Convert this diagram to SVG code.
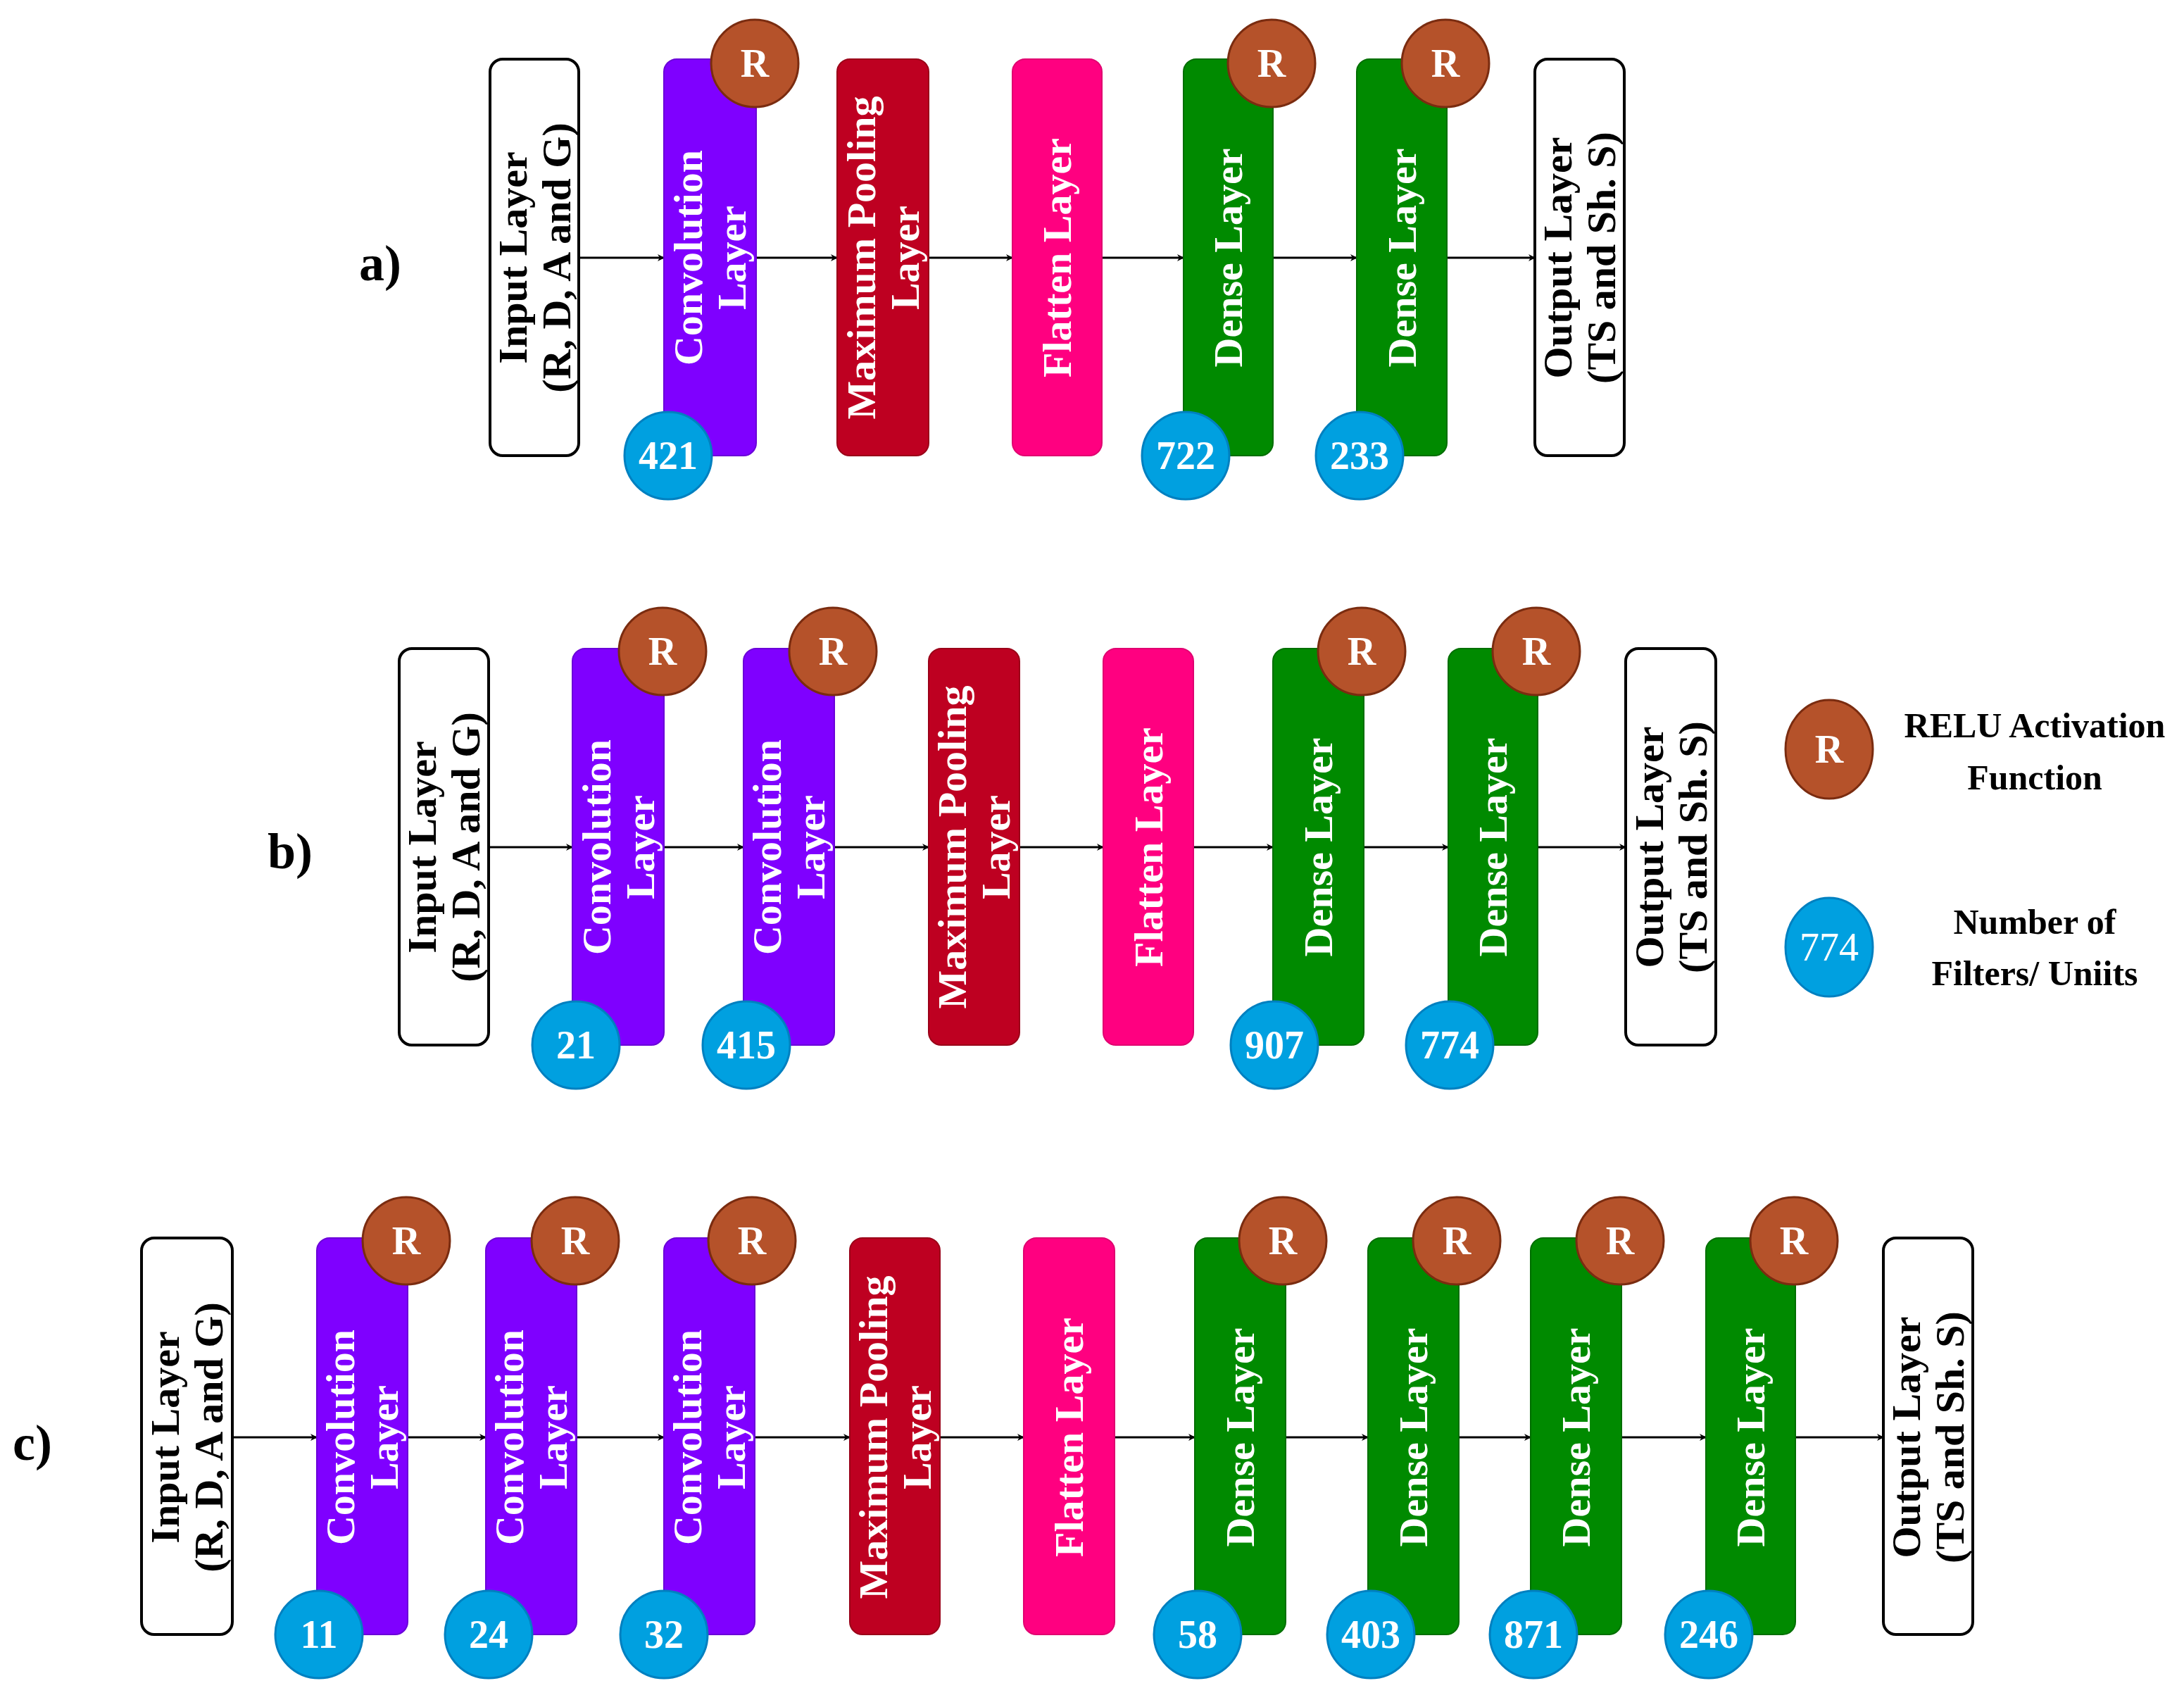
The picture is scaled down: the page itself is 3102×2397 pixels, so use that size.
<svg xmlns="http://www.w3.org/2000/svg" width="3102" height="2397" viewBox="0 0 3102 2397">
<style>
text{font-family:"Liberation Serif","Times New Roman",serif;font-weight:bold;dominant-baseline:central;text-anchor:middle}
.lt{font-size:58px;fill:#fff}
.bt{font-size:58px;fill:#000}
.io{fill:#fff;stroke:#000;stroke-width:4}
.cv{fill:#7F00FF;stroke:#6a00d8;stroke-width:2}
.mp{fill:#BE0021;stroke:#9a0018;stroke-width:2}
.fl{fill:#FF0080;stroke:#e00070;stroke-width:2}
.de{fill:#008A00;stroke:#006e00;stroke-width:2}
.r{fill:#B5522A;stroke:#7a2c10;stroke-width:3}
.n{fill:#00A0E0;stroke:#0080c0;stroke-width:3}
.ct{font-size:56px;fill:#fff}
.lab{font-size:72px;fill:#000}
.leg{font-size:50px;fill:#000}
.e{stroke:#000;stroke-width:3;fill:none;marker-end:url(#ah)}
</style>
<defs>
<marker id="ah" markerWidth="10" markerHeight="10" refX="9" refY="5" orient="auto" markerUnits="userSpaceOnUse" viewBox="0 0 10 10"><path d="M0,0 L10,5 L0,10 L3,5 Z" fill="#000"/></marker>
</defs>
<rect width="3102" height="2397" fill="#fff"/>

<text class="lab" x="540" y="374">a)</text>
<text class="lab" x="412" y="1209">b)</text>
<text class="lab" x="46" y="2049">c)</text>

<g id="connectors">
<path class="e" d="M822,366H943"/><path class="e" d="M1074,366H1189"/><path class="e" d="M1319,366H1438"/><path class="e" d="M1565,366H1681"/><path class="e" d="M1808,366H1927"/><path class="e" d="M2055,366H2180"/>
<path class="e" d="M694,1203H813"/><path class="e" d="M943,1203H1056"/><path class="e" d="M1185,1203H1319"/><path class="e" d="M1448,1203H1567"/><path class="e" d="M1695,1203H1808"/><path class="e" d="M1937,1203H2057"/><path class="e" d="M2184,1203H2309"/>
<path class="e" d="M330,2041H450"/><path class="e" d="M579,2041H690"/><path class="e" d="M819,2041H943"/><path class="e" d="M1072,2041H1207"/><path class="e" d="M1335,2041H1454"/><path class="e" d="M1583,2041H1697"/><path class="e" d="M1826,2041H1943"/><path class="e" d="M2072,2041H2174"/><path class="e" d="M2303,2041H2423"/><path class="e" d="M2550,2041H2675"/>
</g>

<!-- Row a -->
<g id="a_in"><rect class="io" x="696" y="84" width="126" height="563" rx="18"/><text class="bt" transform="translate(759,366) rotate(-90)"><tspan x="0" y="-31">Input Layer</tspan><tspan x="0" y="31">(R, D, A and G)</tspan></text></g>
<g id="a_conv"><rect class="cv" x="943" y="84" width="131" height="563" rx="18"/><text class="lt" transform="translate(1008,366) rotate(-90)"><tspan x="0" y="-31">Convolution</tspan><tspan x="0" y="31">Layer</tspan></text><circle class="r" cx="1072" cy="90" r="62"/><text class="ct" x="1072" y="90">R</text><circle class="n" cx="949" cy="647" r="62"/><text class="ct" x="949" y="647">421</text></g>
<g id="a_mp"><rect class="mp" x="1189" y="84" width="130" height="563" rx="18"/><text class="lt" transform="translate(1254,366) rotate(-90)"><tspan x="0" y="-31">Maximum Pooling</tspan><tspan x="0" y="31">Layer</tspan></text></g>
<g id="a_fl"><rect class="fl" x="1438" y="84" width="127" height="563" rx="18"/><text class="lt" transform="translate(1501,366) rotate(-90)">Flatten Layer</text></g>
<g id="a_d1"><rect class="de" x="1681" y="84" width="127" height="563" rx="18"/><text class="lt" transform="translate(1744,366) rotate(-90)">Dense Layer</text><circle class="r" cx="1806" cy="90" r="62"/><text class="ct" x="1806" y="90">R</text><circle class="n" cx="1684" cy="647" r="62"/><text class="ct" x="1684" y="647">722</text></g>
<g id="a_d2"><rect class="de" x="1927" y="84" width="128" height="563" rx="18"/><text class="lt" transform="translate(1991,366) rotate(-90)">Dense Layer</text><circle class="r" cx="2053" cy="90" r="62"/><text class="ct" x="2053" y="90">R</text><circle class="n" cx="1931" cy="647" r="62"/><text class="ct" x="1931" y="647">233</text></g>
<g id="a_out"><rect class="io" x="2180" y="84" width="127" height="563" rx="18"/><text class="bt" transform="translate(2243,366) rotate(-90)"><tspan x="0" y="-31">Output Layer</tspan><tspan x="0" y="31">(TS and Sh. S)</tspan></text></g>

<!-- Row b -->
<g id="b_in"><rect class="io" x="567" y="921" width="127" height="563" rx="18"/><text class="bt" transform="translate(630,1203) rotate(-90)"><tspan x="0" y="-31">Input Layer</tspan><tspan x="0" y="31">(R, D, A and G)</tspan></text></g>
<g id="b_c1"><rect class="cv" x="813" y="921" width="130" height="563" rx="18"/><text class="lt" transform="translate(878,1203) rotate(-90)"><tspan x="0" y="-31">Convolution</tspan><tspan x="0" y="31">Layer</tspan></text><circle class="r" cx="941" cy="925" r="62"/><text class="ct" x="941" y="925">R</text><circle class="n" cx="818" cy="1484" r="62"/><text class="ct" x="818" y="1484">21</text></g>
<g id="b_c2"><rect class="cv" x="1056" y="921" width="129" height="563" rx="18"/><text class="lt" transform="translate(1120,1203) rotate(-90)"><tspan x="0" y="-31">Convolution</tspan><tspan x="0" y="31">Layer</tspan></text><circle class="r" cx="1183" cy="925" r="62"/><text class="ct" x="1183" y="925">R</text><circle class="n" cx="1060" cy="1484" r="62"/><text class="ct" x="1060" y="1484">415</text></g>
<g id="b_mp"><rect class="mp" x="1319" y="921" width="129" height="563" rx="18"/><text class="lt" transform="translate(1383,1203) rotate(-90)"><tspan x="0" y="-31">Maximum Pooling</tspan><tspan x="0" y="31">Layer</tspan></text></g>
<g id="b_fl"><rect class="fl" x="1567" y="921" width="128" height="563" rx="18"/><text class="lt" transform="translate(1631,1203) rotate(-90)">Flatten Layer</text></g>
<g id="b_d1"><rect class="de" x="1808" y="921" width="129" height="563" rx="18"/><text class="lt" transform="translate(1872,1203) rotate(-90)">Dense Layer</text><circle class="r" cx="1934" cy="925" r="62"/><text class="ct" x="1934" y="925">R</text><circle class="n" cx="1810" cy="1484" r="62"/><text class="ct" x="1810" y="1484">907</text></g>
<g id="b_d2"><rect class="de" x="2057" y="921" width="127" height="563" rx="18"/><text class="lt" transform="translate(2120,1203) rotate(-90)">Dense Layer</text><circle class="r" cx="2182" cy="925" r="62"/><text class="ct" x="2182" y="925">R</text><circle class="n" cx="2059" cy="1484" r="62"/><text class="ct" x="2059" y="1484">774</text></g>
<g id="b_out"><rect class="io" x="2309" y="921" width="128" height="563" rx="18"/><text class="bt" transform="translate(2373,1203) rotate(-90)"><tspan x="0" y="-31">Output Layer</tspan><tspan x="0" y="31">(TS and Sh. S)</tspan></text></g>

<!-- Legend -->
<g id="legend_r"><ellipse class="r" cx="2598" cy="1064" rx="62" ry="70"/><text class="ct" x="2598" y="1064">R</text><text class="leg" x="2890" y="1030">RELU Activation</text><text class="leg" x="2890" y="1104">Function</text></g>
<g id="legend_n"><ellipse class="n" cx="2598" cy="1345" rx="62" ry="70"/><text class="ct" x="2598" y="1345" style="font-weight:normal">774</text><text class="leg" x="2890" y="1309">Number of</text><text class="leg" x="2890" y="1382">Filters/ Uniits</text></g>

<!-- Row c -->
<g id="c_in"><rect class="io" x="201" y="1758" width="129" height="563" rx="18"/><text class="bt" transform="translate(265,2041) rotate(-90)"><tspan x="0" y="-31">Input Layer</tspan><tspan x="0" y="31">(R, D, A and G)</tspan></text></g>
<g id="c_c1"><rect class="cv" x="450" y="1758" width="129" height="563" rx="18"/><text class="lt" transform="translate(514,2041) rotate(-90)"><tspan x="0" y="-31">Convolution</tspan><tspan x="0" y="31">Layer</tspan></text><circle class="r" cx="577" cy="1762" r="62"/><text class="ct" x="577" y="1762">R</text><circle class="n" cx="453" cy="2321" r="62"/><text class="ct" x="453" y="2321">11</text></g>
<g id="c_c2"><rect class="cv" x="690" y="1758" width="129" height="563" rx="18"/><text class="lt" transform="translate(754,2041) rotate(-90)"><tspan x="0" y="-31">Convolution</tspan><tspan x="0" y="31">Layer</tspan></text><circle class="r" cx="817" cy="1762" r="62"/><text class="ct" x="817" y="1762">R</text><circle class="n" cx="694" cy="2321" r="62"/><text class="ct" x="694" y="2321">24</text></g>
<g id="c_c3"><rect class="cv" x="943" y="1758" width="129" height="563" rx="18"/><text class="lt" transform="translate(1007,2041) rotate(-90)"><tspan x="0" y="-31">Convolution</tspan><tspan x="0" y="31">Layer</tspan></text><circle class="r" cx="1068" cy="1762" r="62"/><text class="ct" x="1068" y="1762">R</text><circle class="n" cx="943" cy="2321" r="62"/><text class="ct" x="943" y="2321">32</text></g>
<g id="c_mp"><rect class="mp" x="1207" y="1758" width="128" height="563" rx="18"/><text class="lt" transform="translate(1271,2041) rotate(-90)"><tspan x="0" y="-31">Maximum Pooling</tspan><tspan x="0" y="31">Layer</tspan></text></g>
<g id="c_fl"><rect class="fl" x="1454" y="1758" width="129" height="563" rx="18"/><text class="lt" transform="translate(1518,2041) rotate(-90)">Flatten Layer</text></g>
<g id="c_d1"><rect class="de" x="1697" y="1758" width="129" height="563" rx="18"/><text class="lt" transform="translate(1761,2041) rotate(-90)">Dense Layer</text><circle class="r" cx="1822" cy="1762" r="62"/><text class="ct" x="1822" y="1762">R</text><circle class="n" cx="1701" cy="2321" r="62"/><text class="ct" x="1701" y="2321">58</text></g>
<g id="c_d2"><rect class="de" x="1943" y="1758" width="129" height="563" rx="18"/><text class="lt" transform="translate(2007,2041) rotate(-90)">Dense Layer</text><circle class="r" cx="2069" cy="1762" r="62"/><text class="ct" x="2069" y="1762">R</text><circle class="n" cx="1947" cy="2321" r="62"/><text class="ct" x="1947" y="2321">403</text></g>
<g id="c_d3"><rect class="de" x="2174" y="1758" width="129" height="563" rx="18"/><text class="lt" transform="translate(2238,2041) rotate(-90)">Dense Layer</text><circle class="r" cx="2301" cy="1762" r="62"/><text class="ct" x="2301" y="1762">R</text><circle class="n" cx="2178" cy="2321" r="62"/><text class="ct" x="2178" y="2321">871</text></g>
<g id="c_d4"><rect class="de" x="2423" y="1758" width="127" height="563" rx="18"/><text class="lt" transform="translate(2486,2041) rotate(-90)">Dense Layer</text><circle class="r" cx="2548" cy="1762" r="62"/><text class="ct" x="2548" y="1762">R</text><circle class="n" cx="2427" cy="2321" r="62"/><text class="ct" x="2427" y="2321">246</text></g>
<g id="c_out"><rect class="io" x="2675" y="1758" width="127" height="563" rx="18"/><text class="bt" transform="translate(2738,2041) rotate(-90)"><tspan x="0" y="-31">Output Layer</tspan><tspan x="0" y="31">(TS and Sh. S)</tspan></text></g>
</svg>
